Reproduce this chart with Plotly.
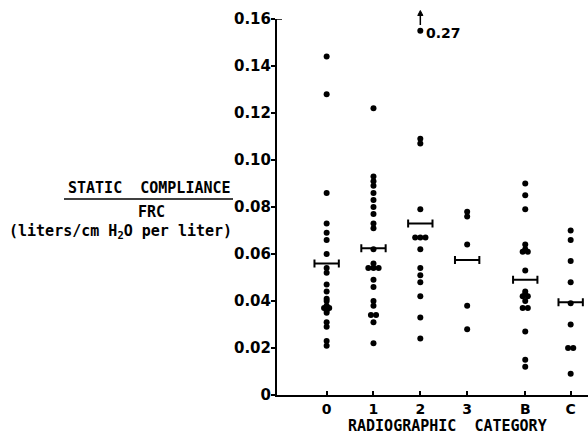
import plotly.graph_objects as go

# Radiographic categories and static compliance / FRC for each subject
categories = ["0", "1", "2", "3", "B", "C"]

cat_0 = [0.144, 0.128, 0.086, 0.073, 0.069, 0.066, 0.060, 0.054, 0.052, 0.047,
         0.044, 0.041, 0.040, 0.038, 0.037, 0.037, 0.036, 0.035, 0.031, 0.029,
         0.023, 0.021]
cat_1 = [0.122, 0.093, 0.091, 0.089, 0.086, 0.083, 0.080, 0.077, 0.073, 0.071,
         0.062, 0.056, 0.054, 0.054, 0.054, 0.049, 0.046, 0.040, 0.038, 0.034,
         0.034, 0.031, 0.022]
cat_2 = [0.27, 0.109, 0.107, 0.079, 0.067, 0.067, 0.067, 0.062, 0.054, 0.051,
         0.048, 0.042, 0.033, 0.024]
cat_3 = [0.078, 0.076, 0.064, 0.038, 0.028]
cat_B = [0.090, 0.085, 0.079, 0.064, 0.062, 0.061, 0.061, 0.053, 0.044, 0.043,
         0.042, 0.042, 0.040, 0.037, 0.037, 0.027, 0.015, 0.012]
cat_C = [0.070, 0.066, 0.057, 0.048, 0.039, 0.030, 0.020, 0.020, 0.009]

group_means = [0.056, 0.0625, 0.073, 0.0575, 0.049, 0.0395]

y_ticks = [0, 0.02, 0.04, 0.06, 0.08, 0.10, 0.12, 0.14, 0.16]
y_tick_labels = ["0", "0.02", "0.04", "0.06", "0.08", "0.10", "0.12", "0.14", "0.16"]

# ---------------------------------------------------------------- layout
groups = [cat_0, cat_1, cat_2, cat_3, cat_B, cat_C]
cat_pos = [0, 1, 2, 3, 4.24, 5.21]      # B and C sit a little apart
Y_MAX = 0.16
TOP_CLIP = 0.155                         # off-scale values are pinned here
JITTER = 0.11                            # side-by-side spacing for ties
MEAN_HALF = 0.26                         # half-length of the mean bar

TEXT_FONT = "DejaVu Sans Mono"
NUM_FONT = "DejaVu Sans"

L, R, T, B = 277, 0, 19, 41
W, H = 588, 436


def px_x(px):
    return (px - L) / (W - L - R)


def px_y(py):
    return (H - B - py) / (H - B - T)


xs, ys = [], []
offscale = []
for pos, vals in zip(cat_pos, groups):
    counts = {}
    for v in vals:
        counts[v] = counts.get(v, 0) + 1
    seen = {}
    for v in vals:
        n = counts[v]
        i = seen.get(v, 0)
        seen[v] = i + 1
        x = pos + (i - (n - 1) / 2) * JITTER
        y = min(v, TOP_CLIP)
        xs.append(x)
        ys.append(y)
        if v > Y_MAX:
            offscale.append((x, y, v))

fig = go.Figure()
fig.add_trace(go.Scatter(
    x=xs, y=ys, mode="markers", cliponaxis=False,
    marker=dict(size=6, color="black", line=dict(width=0)),
    hoverinfo="y",
))
fig.add_trace(go.Scatter(
    x=cat_pos, y=group_means, mode="markers",
    marker=dict(size=2, color="rgba(0,0,0,0)"),
    error_x=dict(type="constant", value=MEAN_HALF, width=4,
                 thickness=2, color="black"),
    hoverinfo="y",
))

annotations = []
shapes = []
for x, y, v in offscale:
    # upward arrow above the pinned point, plus its true value
    shapes.append(dict(
        type="line", xref="x", yref="paper",
        x0=x, x1=x, y0=px_y(25), y1=px_y(13),
        line=dict(color="black", width=1.5),
    ))
    shapes.append(dict(
        type="path", xref="x", yref="paper",
        path=(f"M {x - 0.055},{px_y(15.5)} L {x},{px_y(10.5)} "
              f"L {x + 0.055},{px_y(15.5)} Z"),
        fillcolor="black", line=dict(color="black", width=1),
    ))
    annotations.append(dict(
        x=x, y=y, xref="x", yref="y", text=f"<b>{v:.2f}</b>",
        showarrow=False, xanchor="left", yanchor="middle", xshift=4,
        yshift=-2, font=dict(family=NUM_FONT, size=14, color="black"),
    ))

title_font = dict(family=TEXT_FONT, size=15, color="black")
annotations += [
    dict(x=px_x(149), y=px_y(188), xref="paper", yref="paper",
         text="<b>STATIC\u00a0 COMPLIANCE</b>", showarrow=False,
         xanchor="center", yanchor="middle", font=title_font),
    dict(x=px_x(151), y=px_y(212), xref="paper", yref="paper",
         text="<b>FRC</b>", showarrow=False,
         xanchor="center", yanchor="middle", font=title_font),
    dict(x=px_x(234), y=px_y(231), xref="paper", yref="paper",
         text="<b>(liters/cm H<sub>2</sub>O per liter)</b>", showarrow=False,
         xanchor="right", yanchor="middle", font=title_font),
    dict(x=px_x(447), y=px_y(426), xref="paper", yref="paper",
         text="<b>RADIOGRAPHIC\u00a0 CATEGORY</b>", showarrow=False,
         xanchor="center", yanchor="middle", font=title_font),
]

shapes += [
    # fraction bar under the axis title
    dict(type="line", xref="paper", yref="paper",
         x0=px_x(64), x1=px_x(233), y0=px_y(199), y1=px_y(199),
         line=dict(color="black", width=1.5)),
    # small cap at the top of the y axis
    dict(type="line", xref="paper", yref="y",
         x0=0, x1=px_x(L + 5), y0=Y_MAX, y1=Y_MAX,
         line=dict(color="black", width=1.5)),
]

fig.update_layout(
    width=W, height=H,
    margin=dict(l=L, r=R, t=T, b=B, pad=0),
    paper_bgcolor="white", plot_bgcolor="white",
    showlegend=False,
    annotations=annotations, shapes=shapes,
    xaxis=dict(
        range=[-1.06, 5.58], tickvals=cat_pos,
        ticktext=[f"<b>{c}</b>" for c in categories],
        ticks="inside", ticklen=4, tickwidth=1.5, tickcolor="black",
        showline=True, linecolor="black", linewidth=2,
        showgrid=False, zeroline=False,
        tickfont=dict(family=NUM_FONT, size=14, color="black"),
    ),
    yaxis=dict(
        range=[0, Y_MAX], tickvals=y_ticks,
        ticktext=[f"<b>{t}</b>" for t in y_tick_labels],
        ticks="outside", ticklen=4, tickwidth=1.5, tickcolor="black",
        ticklabelstandoff=-3,
        showline=True, linecolor="black", linewidth=2,
        showgrid=False, zeroline=False,
        tickfont=dict(family=NUM_FONT, size=15, color="black"),
    ),
)

fig.write_html("out.html")
